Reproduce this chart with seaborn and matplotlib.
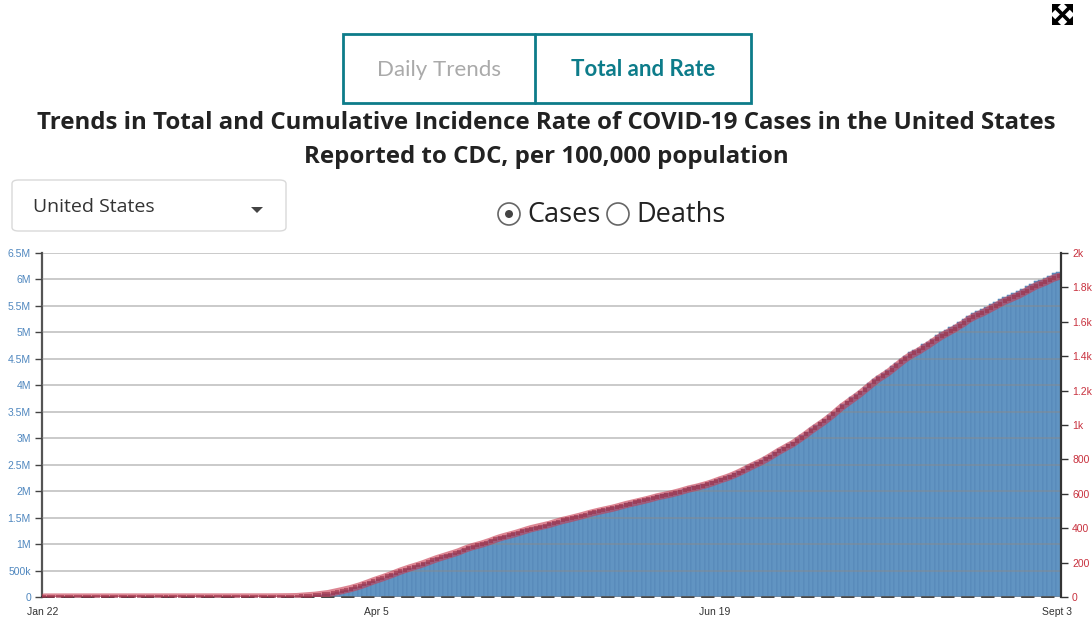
import numpy as np
import pandas as pd
import matplotlib
matplotlib.use("Agg")
import matplotlib.pyplot as plt
import seaborn as sns
from matplotlib.patches import FancyBboxPatch, Rectangle, Ellipse, Polygon
from matplotlib.ticker import FuncFormatter, FixedLocator

# ---------------- data ----------------
# cumulative reported cases, daily from Jan 22 to Sept 3 (2020)
cases_jan = [1, 1, 2, 2, 5, 5, 5, 6, 6, 8]
cases_feb = [8, 8, 11, 11, 12, 12, 12, 12, 12, 13, 13, 14, 15, 15, 15, 15, 15, 15, 15, 15,
             35, 35, 35, 53, 53, 59, 60, 62, 70]
cases_mar = [76, 101, 122, 153, 221, 278, 417, 537, 605, 959, 1281, 1663, 2179, 2726, 3499,
             4632, 6421, 7786, 13680, 19101, 25493, 33272, 43847, 53740, 65778, 83836,
             101657, 121465, 140909, 161831, 188172]
cases_apr = [213242, 243622, 275367, 308650, 336802, 366317, 397121, 428654, 462780, 496535,
             526396, 555313, 580619, 607670, 636350, 667592, 699706, 732197, 758809, 784326,
             811865, 840351, 869170, 905358, 938154, 965785, 988197, 1012582, 1039909, 1069424]
cases_may = [1103461, 1132539, 1158040, 1180375, 1204351, 1229331, 1257023, 1283929, 1309550,
             1329260, 1347881, 1369376, 1390406, 1417774, 1442824, 1467820, 1486757, 1508308,
             1528568, 1551853, 1577147, 1600937, 1622612, 1643246, 1662302, 1680913, 1699933,
             1721926, 1747087, 1770165, 1790191]
cases_jun = [1811277, 1831821, 1851520, 1872660, 1897380, 1920061, 1938823, 1956499, 1974152,
             1995854, 2019096, 2044572, 2069779, 2089701, 2108985, 2132321, 2156965, 2184679,
             2215618, 2248029, 2274974, 2305800, 2341867, 2380307, 2422312, 2467458, 2510295,
             2550034, 2590760, 2636538]
cases_jul = [2687588, 2742049, 2795361, 2841124, 2891124, 2936077, 2996098, 3054699, 3117946,
             3184722, 3245925, 3304942, 3364157, 3431574, 3499291, 3576221, 3647715, 3711413,
             3773260, 3834677, 3899211, 3970121, 4038816, 4112531, 4178970, 4233923, 4290337,
             4356982, 4426982, 4495014, 4562107]
cases_aug = [4620592, 4667957, 4713540, 4771087, 4823890, 4883657, 4941755, 4998017, 5044864,
             5094565, 5141208, 5197411, 5248958, 5313055, 5361165, 5403213, 5438325, 5482416,
             5529824, 5573847, 5622540, 5667112, 5701679, 5739724, 5777710, 5821819, 5867785,
             5917440, 5961582, 5997163, 6031013]
cases_sep = [6073840, 6113510, 6140000]

cases = cases_jan + cases_feb + cases_mar + cases_apr + cases_may + cases_jun + cases_jul + cases_aug + cases_sep
dates = pd.date_range("2020-01-22", periods=len(cases), freq="D")

POPULATION = 329_500_000  # for rate per 100,000 population
rate = [c / POPULATION * 100000 for c in cases]

tick_labels = ["Jan 22", "Apr 5", "Jun 19", "Sept 3"]
tick_dates = ["2020-01-22", "2020-04-05", "2020-06-19", "2020-09-03"]

left_ticks = [i * 500000 for i in range(14)]
right_ticks = [i * 200 for i in range(11)]

df = pd.DataFrame({"day": np.arange(len(cases)), "cases": cases, "rate": rate})

# ---------------- figure ----------------
W, H = 1092, 618
fig = plt.figure(figsize=(W / 100, H / 100), dpi=100)
sns.set_style("white")
plt.rcParams["font.family"] = ["Liberation Sans", "DejaVu Sans"]


def fx(x):
    return x / W


def fy(y):
    return 1 - y / H


ax_l, ax_r, ax_t, ax_b = 42, 1061, 253, 597
ax = fig.add_axes([fx(ax_l), fy(ax_b), fx(ax_r) - fx(ax_l), fy(ax_t) - fy(ax_b)])

bar_color = "#6194c2"
sns.barplot(data=df, x="day", y="cases", ax=ax, color=bar_color, saturation=1,
            width=1.0, edgecolor="#5080b2", linewidth=0.35)

ax.set_xlim(-0.5, len(cases) - 0.5)
ax.set_ylim(0, 6.5e6)
ax.set_xlabel("")
ax.set_ylabel("")

ax.yaxis.set_major_locator(FixedLocator(left_ticks))


def fmt_left(v, pos):
    if v == 0:
        return "0"
    if v < 1e6:
        return f"{int(v / 1000)}k"
    m = v / 1e6
    return f"{m:g}M"


ax.yaxis.set_major_formatter(FuncFormatter(fmt_left))
ax.set_axisbelow(False)
ax.grid(axis="y", color="#8a8a8a", alpha=0.45, linewidth=1.4)
ax.grid(axis="x", visible=False)

day_index = {d: i for i, d in enumerate(dates.strftime("%Y-%m-%d"))}
ax.set_xticks([day_index[d] - 0.3 for d in tick_dates])
ax.set_xticklabels(tick_labels)

ax.tick_params(axis="y", direction="out", length=5, width=1, color="#444444",
               labelcolor="#4f87bf", labelsize=7.5, pad=3)
ax.tick_params(axis="x", direction="out", length=5, width=1, color="#333333",
               labelcolor="#333333", labelsize=7.5, pad=2)

for s in ["top", "right"]:
    ax.spines[s].set_visible(False)
ax.spines["left"].set_color("#555555")
ax.spines["left"].set_linewidth(1.6)
ax.spines["bottom"].set_color("#222222")
ax.spines["bottom"].set_linewidth(1.2)
ax.spines["bottom"].set_linestyle((0, (7, 5)))

# rate line on right axis
ax2 = ax.twinx()
sns.lineplot(data=df, x="day", y="rate", ax=ax2, color="#c73a50", alpha=0.62,
             linewidth=5.2, marker="s", markersize=3.0, markeredgewidth=0,
             markerfacecolor="#9a3049")
ax2.set_ylim(0, 2000)
ax2.set_xlim(-0.5, len(cases) - 0.5)
ax2.set_ylabel("")
ax2.set_xlabel("")
ax2.yaxis.set_major_locator(FixedLocator(right_ticks))


def fmt_right(v, pos):
    if v < 1000:
        return f"{int(v)}"
    return f"{v / 1000:g}k"


ax2.yaxis.set_major_formatter(FuncFormatter(fmt_right))
ax2.tick_params(axis="y", direction="out", length=5, width=1, color="#333333",
                labelcolor="#c8313e", labelsize=7.5, pad=3)
for s in ["top", "left", "bottom"]:
    ax2.spines[s].set_visible(False)
ax2.spines["right"].set_color("#333333")
ax2.spines["right"].set_linewidth(1.6)
ax2.grid(False)

# ---------------- header UI ----------------
teal = "#0d7c8a"
fig.add_artist(Rectangle((fx(343), fy(103)), fx(751) - fx(343), fy(34) - fy(103),
                         transform=fig.transFigure, fill=False, edgecolor=teal, linewidth=2))
fig.add_artist(plt.Line2D([fx(535), fx(535)], [fy(103), fy(34)], transform=fig.transFigure,
                          color=teal, linewidth=2))
fig.text(fx(439), fy(70), "Daily Trends", ha="center", va="center", fontsize=16,
         family=["Lato", "DejaVu Sans"], color="#aaaaaa")
fig.text(fx(643), fy(70), "Total and Rate", ha="center", va="center", fontsize=16,
         family=["Lato", "DejaVu Sans"], color=teal, fontweight="bold")

fig.text(fx(546), fy(123), "Trends in Total and Cumulative Incidence Rate of COVID-19 Cases in the United States",
         ha="center", va="center", fontsize=17.3, fontweight="bold",
         family=["Open Sans", "DejaVu Sans"], color="#222222")
fig.text(fx(546), fy(157), "Reported to CDC, per 100,000 population",
         ha="center", va="center", fontsize=17.3, fontweight="bold",
         family=["Open Sans", "DejaVu Sans"], color="#222222")

# dropdown
fig.add_artist(FancyBboxPatch((fx(12), fy(231)), fx(286) - fx(12), fy(180) - fy(231),
                              boxstyle="round,pad=0,rounding_size=0.006",
                              transform=fig.transFigure, facecolor="white",
                              edgecolor="#d9d9d9", linewidth=1))
fig.text(fx(33), fy(207), "United States", ha="left", va="center", fontsize=14,
         family=["Open Sans", "DejaVu Sans"], color="#333333")
fig.add_artist(Polygon([[fx(251), fy(207)], [fx(263), fy(207)], [fx(257), fy(213)]],
                       closed=True, transform=fig.transFigure, facecolor="#444444",
                       edgecolor="none"))

# radio buttons
def radio(cx, cy, checked):
    fig.add_artist(Ellipse((fx(cx), fy(cy)), 22 / W, 22 / H, transform=fig.transFigure,
                           fill=False, edgecolor="#666666", linewidth=1.2))
    if checked:
        fig.add_artist(Ellipse((fx(cx), fy(cy)), 8 / W, 8 / H, transform=fig.transFigure,
                               facecolor="#444444", edgecolor="none"))


radio(509, 214, True)
radio(618, 214, False)
fig.text(fx(527), fy(215), "Cases", ha="left", va="center", fontsize=19.5,
         family=["Open Sans", "DejaVu Sans"], color="#222222")
fig.text(fx(636), fy(215), "Deaths", ha="left", va="center", fontsize=19.5,
         family=["Open Sans", "DejaVu Sans"], color="#222222")

# expand icon
fig.add_artist(plt.Line2D([fx(1055), fx(1070)], [fy(7), fy(22)], transform=fig.transFigure,
                          color="black", linewidth=2.6))
fig.add_artist(plt.Line2D([fx(1070), fx(1055)], [fy(7), fy(22)], transform=fig.transFigure,
                          color="black", linewidth=2.6))
for tri in [[(1052, 4), (1061, 4), (1052, 13)],
            [(1073, 4), (1064, 4), (1073, 13)],
            [(1052, 25), (1061, 25), (1052, 16)],
            [(1073, 25), (1064, 25), (1073, 16)]]:
    fig.add_artist(Polygon([[fx(a), fy(b)] for a, b in tri], closed=True,
                           transform=fig.transFigure, facecolor="black", edgecolor="none"))

fig.savefig("out.png", dpi=100)
